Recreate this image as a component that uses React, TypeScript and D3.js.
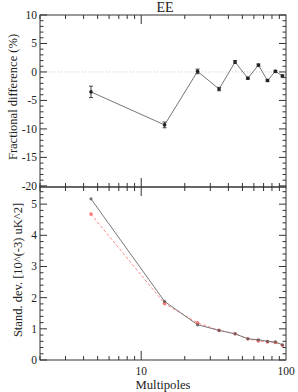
import { useEffect, useRef } from "react";
import * as d3 from "d3";

const W = 298;
const H = 392;
const X0 = 40;
const X1 = 286;
const TOP = { y0: 15, y1: 187 };
const BOT = { y0: 187, y1: 360 };

const multipoles = [4.5, 14.5, 24.5, 34.5, 44.5, 54.5, 64.5, 74.5, 84.5, 94.5];
const fracDiff = [-3.5, -9.3, 0.1, -3.0, 1.75, -1.1, 1.2, -1.5, 0.1, -0.7];
const fracErr = [1.0, 0.5, 0.4, 0.3, 0.25, 0.2, 0.2, 0.2, 0.2, 0.2];
const stdA = [5.17, 1.88, 1.13, 0.95, 0.84, 0.68, 0.65, 0.6, 0.58, 0.49];
const stdB = [4.68, 1.81, 1.19, 0.95, 0.84, 0.68, 0.61, 0.58, 0.56, 0.47];
const topTicks = [10, 5, 0, -5, -10, -15, -20];
const botTicks = [0, 1, 2, 3, 4, 5];
const xTicks = [10, 100];

const FONT = "'Liberation Serif', 'DejaVu Serif', serif";

export default function App() {
  const ref = useRef<SVGSVGElement>(null);

  useEffect(() => {
    if (!ref.current) return;
    const svg = d3.select(ref.current);
    svg.selectAll("*").remove();

    const x = d3.scaleLog().domain([2, 100]).range([X0, X1]);
    const yTop = d3.scaleLinear().domain([-20.2, 10]).range([TOP.y1, TOP.y0]);
    const yBot = d3.scaleLinear().domain([0, 5.55]).range([BOT.y1, BOT.y0]);

    const ink = "#333";

    // dotted zero line in the top panel
    svg
      .append("line")
      .attr("x1", X0)
      .attr("x2", X1)
      .attr("y1", yTop(0))
      .attr("y2", yTop(0))
      .attr("stroke", "#bbb")
      .attr("stroke-width", 0.8)
      .attr("stroke-dasharray", "1,2");

    const panel = (y: d3.ScaleLinear<number, number>, p: { y0: number; y1: number }, minor: number, major: number[]) => {
      const g = svg.append("g");
      g.append("rect")
        .attr("x", X0)
        .attr("y", p.y0)
        .attr("width", X1 - X0)
        .attr("height", p.y1 - p.y0)
        .attr("fill", "none")
        .attr("stroke", ink)
        .attr("stroke-width", 1);

      // log x ticks, inside, top & bottom
      const xMinor: number[] = [];
      for (let d = 1; d <= 10; d *= 10)
        for (let k = 1; k <= 9; k++) {
          const v = k * d;
          if (v >= 2 && v <= 100) xMinor.push(v);
        }
      xMinor.forEach((v) => {
        const len = xTicks.includes(v) ? 9 : 4;
        g.append("line").attr("x1", x(v)).attr("x2", x(v)).attr("y1", p.y1).attr("y2", p.y1 - len).attr("stroke", ink);
        g.append("line").attr("x1", x(v)).attr("x2", x(v)).attr("y1", p.y0).attr("y2", p.y0 + len).attr("stroke", ink);
      });

      // y ticks, left & right
      const [lo, hi] = y.domain();
      for (let v = Math.ceil(lo / minor) * minor; v <= hi + 1e-9; v += minor) {
        const isMajor = major.some((m) => Math.abs(m - v) < 1e-6);
        const len = isMajor ? 7 : 3.5;
        g.append("line").attr("x1", X0).attr("x2", X0 + len).attr("y1", y(v)).attr("y2", y(v)).attr("stroke", ink);
        g.append("line").attr("x1", X1).attr("x2", X1 - len).attr("y1", y(v)).attr("y2", y(v)).attr("stroke", ink);
      }
      major.forEach((m) => {
        g.append("text")
          .attr("x", X0 - 3)
          .attr("y", y(m) + 4)
          .attr("text-anchor", "end")
          .attr("font-family", FONT)
          .attr("font-size", 11.5)
          .attr("fill", "#222")
          .text(m);
      });
    };

    panel(yTop, TOP, 1, topTicks);
    panel(yBot, BOT, 0.2, botTicks);

    // top series with error bars
    const lineTop = d3
      .line<number>()
      .x((_, i) => x(multipoles[i]))
      .y((d) => yTop(d));
    svg.append("path").attr("d", lineTop(fracDiff)).attr("fill", "none").attr("stroke", "#777").attr("stroke-width", 1);
    fracDiff.forEach((v, i) => {
      const cx = x(multipoles[i]);
      svg
        .append("line")
        .attr("x1", cx)
        .attr("x2", cx)
        .attr("y1", yTop(v - fracErr[i]))
        .attr("y2", yTop(v + fracErr[i]))
        .attr("stroke", "#444");
      [v - fracErr[i], v + fracErr[i]].forEach((e) =>
        svg.append("line").attr("x1", cx - 2).attr("x2", cx + 2).attr("y1", yTop(e)).attr("y2", yTop(e)).attr("stroke", "#444")
      );
      svg.append("circle").attr("cx", cx).attr("cy", yTop(v)).attr("r", 1.8).attr("fill", "#222");
    });

    // bottom series
    const lineBot = d3
      .line<number>()
      .x((_, i) => x(multipoles[i]))
      .y((d) => yBot(d));
    svg
      .append("path")
      .attr("d", lineBot(stdB))
      .attr("fill", "none")
      .attr("stroke", "#ff8a8a")
      .attr("stroke-width", 1)
      .attr("stroke-dasharray", "3,2");
    svg.append("path").attr("d", lineBot(stdA)).attr("fill", "none").attr("stroke", "#777").attr("stroke-width", 1);
    stdB.forEach((v, i) => {
      svg.append("circle").attr("cx", x(multipoles[i])).attr("cy", yBot(v)).attr("r", 1.8).attr("fill", "#f77");
    });
    stdA.forEach((v, i) => {
      svg.append("circle").attr("cx", x(multipoles[i])).attr("cy", yBot(v)).attr("r", 1.6).attr("fill", "#555").attr("opacity", 0.8);
    });

    xTicks.forEach((t) => {
      svg
        .append("text")
        .attr("x", x(t))
        .attr("y", BOT.y1 + 15)
        .attr("text-anchor", "middle")
        .attr("font-family", FONT)
        .attr("font-size", 11.5)
        .attr("fill", "#222")
        .text(t);
    });

    svg
      .append("text")
      .attr("x", 163)
      .attr("y", 389)
      .attr("text-anchor", "middle")
      .attr("font-family", FONT)
      .attr("font-size", 12.7)
      .attr("fill", "#222")
      .text("Multipoles");

    svg
      .append("text")
      .attr("x", 165)
      .attr("y", 12)
      .attr("text-anchor", "middle")
      .attr("font-family", FONT)
      .attr("font-size", 14)
      .attr("fill", "#222")
      .text("EE");

    svg
      .append("text")
      .attr("transform", `translate(17,97) rotate(-90)`)
      .attr("text-anchor", "middle")
      .attr("font-family", FONT)
      .attr("font-size", 12.5)
      .attr("fill", "#222")
      .text("Fractional difference (%)");

    svg
      .append("text")
      .attr("transform", `translate(22,270) rotate(-90)`)
      .attr("text-anchor", "middle")
      .attr("font-family", FONT)
      .attr("font-size", 12.5)
      .attr("fill", "#222")
      .text("Stand. dev. [10^(-3) uK^2]");
  }, []);

  return (
    <svg
      ref={ref}
      width={W}
      height={H}
      viewBox={`0 0 ${W} ${H}`}
      style={{ position: "absolute", left: 0, top: 0, background: "#fff" }}
    />
  );
}
